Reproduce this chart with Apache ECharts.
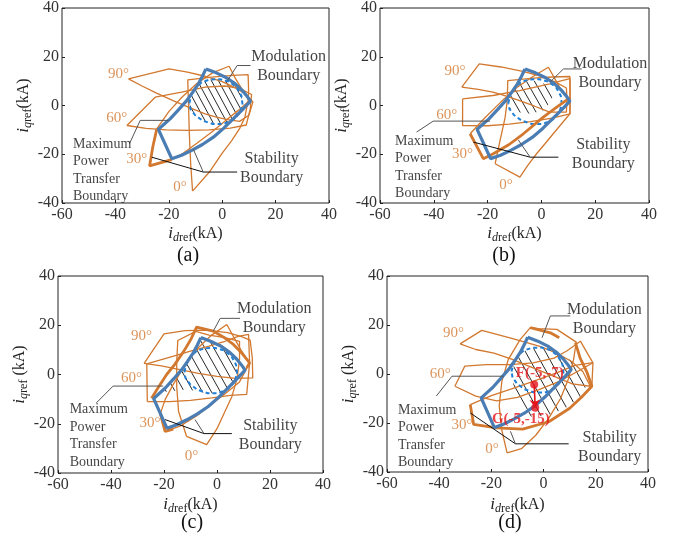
<!DOCTYPE html>
<html><head><meta charset="utf-8">
<script src="https://cdn.jsdelivr.net/npm/echarts@6/dist/echarts.min.js"></script>
<style>html,body{margin:0;padding:0;background:#fff}#c{width:674px;height:537px}</style>
</head><body><div id="c"></div>
<script>
// ---------- axis ----------
const X_RANGE = [-60, 40];
const Y_RANGE = [-40, 40];
const TICK_STEP = 20;
const PANEL_LABELS = ['(a)', '(b)', '(c)', '(d)'];

// ---------- common boundaries ----------
const BLUE_BOUND = [[-6.1,15.0],[-2.2,13.4],[1.6,11.4],[4.8,9.0],[7.4,6.3],[9.3,3.8],[10.6,1.8],[7.5,-1.8],[4.1,-5.5],[0.5,-9.4],[-3.3,-13.0],[-7.4,-16.0],[-11.4,-18.4],[-15.2,-20.4],[-18.9,-21.8],[-21.4,-15.8],[-23.9,-9.8],[-21.8,-7.7],[-19.5,-5.5],[-16.4,-1.8],[-13.3,2.0],[-11,5.5],[-8.9,8.9],[-7.4,12],[-6.1,15.0]];
const MOD_LENS = [[-12.3,1.0],[-11.6,4.2],[-10.0,7.3],[-7.6,9.6],[-4.4,10.7],[-0.8,10.8],[2.6,9.8],[5.4,7.5],[7.2,4.0],[7.6,0.5],[6.6,-3.0],[4.1,-5.9],[0.5,-7.6],[-3.5,-7.6],[-7.4,-6.2],[-10.2,-3.9],[-11.9,-1.4],[-12.3,1.0]];

// ---------- panel (a) ----------
const A_90 = [[-35.1,10.9],[-19.9,15.0],[-13,13.7],[-6.4,12.0],[0,9.8],[5,7.2],[9,4.5],[11.5,1.5],[10,-4],[6.5,-6.5],[2,-5.8],[-2.5,-4.7],[-6.4,-3.4],[-12,-1],[-18,1.8],[-25,5.3],[-30,8],[-35.1,10.9]];
const A_60 = [[-35.7,-8.2],[-25.1,3.4],[-15.2,5.5],[-6.4,7.5],[1,8],[6.5,7],[11,4.5],[10.5,-1.5],[9,-8],[3,-9.3],[-5,-10.0],[-13,-10.2],[-21,-10],[-28.5,-9.4],[-35.7,-8.2]];
const A_30 = [[-27.2,-24.8],[-26,-17],[-24.5,-9.6],[-20,-2.5],[-15,3.5],[-9.5,9],[-3.5,13.5],[2.6,16.1],[5,11],[7.5,6.5],[10.4,2.2],[6,-2],[1,-6.5],[-4,-11],[-9.5,-15.5],[-14.5,-19.5],[-18.9,-22.2],[-27.2,-24.8]];
const A_0 = [[-11.1,-35.1],[-11.8,-24],[-12.3,-12],[-12.6,0],[-12.9,10.5],[-4,11.6],[4,12.4],[9.7,12.7],[9.9,6],[9.7,2.0],[8.5,-4.8],[6.5,-9.5],[3.5,-14.5],[0,-19.5],[-4.8,-27.3],[-11.1,-35.1]];
const A_THICK = [[-24.5,-9.6],[-26,-17],[-27.2,-24.8],[-18.9,-22.2]];
const A_HATCH = MOD_LENS;
const A_ANGLES = [[-38.8,12.7,'90°'],[-39.5,-5.1,'60°'],[-32,-22.1,'30°'],[-15.8,-33.4,'0°']];
const A_TEXT_POS = [[24.9,16.2],[18.5,-25.9],[-55.9,-26.6]];
const A_LEAD_MOD = [[2.0,10.2],[5.6,16.4],[10.6,16.4]];
const A_LEAD_STAB = [[-26.4,-21.2],[-7.1,-27.3],[5.6,-27.3]];
const A_LEAD_STAB2 = [[-10.8,-18.0],[-7.1,-27.3]];
const A_LEAD_MPT = [[-34.7,-15.6],[-30.7,-6.1],[-20.1,-6.1]];

// ---------- panel (b) ----------
const B_90 = [[-29.6,7.5],[-23.1,17.1],[-15,15.8],[-7,14],[0,12],[5.5,9.5],[9.3,7.2],[9.5,2],[9.3,-2.7],[3.1,-2.7],[-2.5,-0.3],[-8.1,2.0],[-13,3.8],[-18,5.5],[-23.5,6.6],[-29.6,7.5]];
const B_60 = [[-29.3,2.7],[-18,4.1],[-8.1,6.1],[3.1,8.9],[8,10.3],[10.6,11],[10.6,4],[10.6,-3.4],[4,-5.2],[-4,-6.6],[-12,-7.6],[-20,-8.3],[-29.3,-8.2],[-29.3,2.7]];
const B_30 = [[-26.5,-11.6],[-21,-5],[-15,1.5],[-9,7.5],[-3,12],[2.6,15.7],[5.5,10],[7.5,6],[10,2.7],[5.7,-0.7],[0.7,-4.8],[-6.7,-11.6],[-12,-16],[-17.9,-19.8],[-21.6,-21.8],[-26.5,-11.6]];
const B_0 = [[-17.2,-23.9],[-15.5,-15],[-13.5,-5],[-12.7,2],[-12.5,10.2],[-3,11.2],[4,11.7],[10.6,11.9],[10.7,4],[10.6,-3.4],[7.5,-7.5],[4.4,-11.6],[1.5,-15.5],[-1.8,-19.8],[-5,-24.5],[-8.0,-29.4],[-17.2,-23.9]];
const B_THICK = [[-26.5,-11.6],[-21.6,-21.8],[-17.9,-19.8],[-12,-16],[-6.7,-11.6],[0.7,-4.8],[5.7,-0.7],[10,2.7]];
const B_HATCH = [[-11.7,0.7],[-11.2,4.5],[-9.8,8.2],[-6.7,10],[-1.8,10.2],[2.6,8.2],[4.4,5.5],[3.8,2],[0.7,-2],[-4.2,-3.4],[-9.2,-2.7],[-11.7,-1.4]];
const B_ANGLES = [[-32.1,14.3,'90°'],[-35.2,-4.1,'60°'],[-29.3,-20.1,'30°'],[-13.2,-32.8,'0°']];
const B_TEXT_POS = [[25.5,13.2],[23.0,-20.1],[-54.4,-25.3]];
const B_LEAD_MOD = [[3.2,9.6],[8.2,15.0],[15.0,15.0]];
const B_LEAD_STAB = [[-25.3,-15.0],[-4.2,-21.2],[6.3,-21.2]];
const B_LEAD_STAB2 = [[-8.6,-14.1],[-4.2,-21.2]];
const B_LEAD_MPT = [[-46.4,-10.9],[-40.2,-6.4],[-19.1,-6.4]];

// ---------- panel (c) ----------
const C_90 = [[-27.5,4.5],[-20,16.5],[-12,17.8],[-4,18],[4,17],[9,15.5],[12.5,14],[13.3,7],[13.5,-1.4],[7,-1.6],[0,-0.8],[-7,0.5],[-14,2],[-21,3.5],[-27.5,4.5]];
const C_60 = [[-26.3,-11],[-26.5,4.3],[-18,7],[-10,9.5],[-3,11.5],[3,13.5],[8,15.5],[11.9,16.3],[12.3,4.7],[11.2,-8.1],[5,-8.5],[-2,-9.5],[-10,-10.5],[-18,-11],[-26.3,-11]];
const C_30 = [[-21.5,-16.3],[-19.6,-23.1],[-14,-21],[-8,-17],[-2,-12],[4,-7],[8.5,-3],[12.3,4.7],[9,10],[3.7,20.3],[-2,16],[-7,11],[-12,4],[-16.5,-4],[-19.5,-10],[-21.5,-16.3]];
const C_0 = [[-11.5,-25.1],[-3.9,-28.5],[0,-22],[3,-15],[5.6,-9],[7.5,-2],[8.5,6],[8.5,13.5],[3,15],[-3,16],[-8,17.5],[-14.8,13.8],[-15.2,5],[-15.2,-5],[-14.5,-15],[-11.5,-25.1]];
const C_THICK = [[-24.7,-9.6],[-22,-5],[-19,0],[-16,4],[-12.5,9.5],[-10,14],[-7.7,19.2],[-1.4,17.6],[3,14.8],[6.2,12.2],[9.5,8.5],[12.3,4.7],[11.2,2.7]];
const C_THICK2 = [[-21.2,-16.5],[-19.6,-23.1],[-16.5,-22.2]];
const C_HATCH = [[-21.5,-7.3],[-19.5,-5.5],[-16.4,-1.8],[-13.3,2.0],[-11,5.5],[-8.9,8.9],[-7.4,12],[-6.6,14],[-2,13.8],[2,12],[5,9],[7.4,6.3],[9.3,3.8],[10.2,2],[8.5,-1],[6,-4.5],[2.5,-7.2],[-2,-7.7],[-6.5,-7.2],[-11,-6],[-15,-6.5],[-21.5,-7.3]];
const C_ANGLES = [[-28.5,15.6,'90°'],[-32.3,-1.4,'60°'],[-25.3,-19.7,'30°'],[-9.6,-33.2,'0°']];
const C_TEXT_POS = [[21.6,22.8],[20.1,-24.8],[-55.6,-25.0]];
const C_LEAD_MOD = [[-1.4,17.6],[1.2,22.8],[8.7,22.8]];
const C_LEAD_STAB = [[-19.6,-18.3],[-4.9,-24.0],[5.6,-24.0]];
const C_LEAD_STAB2 = [[-8.3,-18.3],[-4.9,-24.0]];
const C_LEAD_MPT = [[-45.5,-11.5],[-39.2,-4.7],[-20.3,-4.7]];

// ---------- panel (d) ----------
const D_90 = [[-32,12.3],[-23.7,17.8],[-12.9,14.7],[-1.4,11.3],[5,8.5],[10.7,5.1],[15,1],[17.9,-5],[11,-4],[4,-1],[-4,2.5],[-12,6],[-19,8.5],[-26,10],[-32,12.3]];
const D_60 = [[-34,-5],[-30.2,3.2],[-22,3.8],[-13,3.8],[-4,4.5],[4,6.5],[9,9.5],[14.1,13.4],[17,8],[18.9,4.6],[13,1],[6,-3],[-2,-6.5],[-10,-9.5],[-18,-11],[-26,-9],[-34,-5]];
const D_30 = [[-28.1,-12.5],[-26.8,-20.6],[-18,-22],[-8,-22.5],[2,-19.5],[10,-14],[14.5,-9.5],[18.5,-5],[18.9,4.6],[12,3.5],[5,0.5],[-4,-3],[-12,-6],[-20,-8.8],[-28.1,-12.5]];
const D_0 = [[-14,-32.2],[-8.5,-30.5],[-3,-25],[2,-18],[6.5,-10],[9.5,-2],[11.5,6],[12.5,13],[5.1,18.2],[-2,18.5],[-5.1,18.9],[-9,14],[-13.5,6],[-16,-3],[-17,-13],[-16,-23],[-14,-32.2]];
const D_THICK = [[-28.1,-12.5],[-26.8,-20.6],[-18,-22],[-8,-22.5],[2,-19.5],[10,-14],[14.5,-9.5],[18.5,-5],[16.5,1],[14,6.5],[12.2,12.8]];
const D_THICK2 = [[-5.1,18.9],[-1,17.8],[2.6,16.8],[6,14.8]];
const D_HATCH = [[-12,1],[-10.5,7],[-6,10.3],[0,10.8],[5,9],[9,6.5],[12.5,4.2],[15,1],[16.5,-4.5],[14,-9.5],[9,-13.5],[3,-16.5],[-3,-17.5],[-7,-17],[-9.5,-12.5],[-11.5,-5.5],[-12,1]];
const D_ANGLES = [[-34.5,16.8,'90°'],[-39.6,-0.2,'60°'],[-31.3,-20.9,'30°'],[-19.8,-30.8,'0°']];
const D_TEXT_POS = [[23.3,22.2],[25.3,-29.9],[-55.8,-25.4]];
const D_LEAD_MOD = [[-0.6,14.8],[2.6,23.7],[10.2,23.7]];
const D_LEAD_STAB = [[-28.1,-15.9],[-10.8,-28.5],[9.6,-28.5]];
const D_LEAD_STAB2 = [[-12.7,-23.4],[-10.8,-28.5]];
const D_LEAD_MPT = [[-41.1,-9.0],[-35.1,-0.9],[-15.3,-0.9]];
const D_POINTS = [[-3.6,-4.3],[-3.2,-13.8]];
const D_POINT_LABELS = [[-1.5,0.3,'F(-5,-7)'],[-8.7,-18.6,'G(-5,-15)']];

const TEXTS = ['Modulation\nBoundary', 'Stability\nBoundary', 'Maximum\nPower\nTransfer\nBoundary'];

// ---------- styling ----------
const FONT = '"Liberation Serif","Times New Roman",serif';
const ORANGE = '#D2782F', BLUE = '#4A7DB3', DASH = '#1F80D8', RED = '#E5141B';

const PANELS = [
  {shapes:[A_90,A_60,A_30,A_0], thick:[A_THICK], hatch:A_HATCH, angles:A_ANGLES, pos:A_TEXT_POS, lm:A_LEAD_MOD, ls:A_LEAD_STAB, ls2:A_LEAD_STAB2, lp:A_LEAD_MPT, hw:7},
  {shapes:[B_90,B_60,B_30,B_0], thick:[B_THICK], hatch:B_HATCH, angles:B_ANGLES, pos:B_TEXT_POS, lm:B_LEAD_MOD, ls:B_LEAD_STAB, ls2:B_LEAD_STAB2, lp:B_LEAD_MPT, hw:8},
  {shapes:[C_90,C_60,C_30,C_0], thick:[C_THICK,C_THICK2], hatch:C_HATCH, angles:C_ANGLES, pos:C_TEXT_POS, lm:C_LEAD_MOD, ls:C_LEAD_STAB, ls2:C_LEAD_STAB2, lp:C_LEAD_MPT, hw:9},
  {shapes:[D_90,D_60,D_30,D_0], thick:[D_THICK,D_THICK2], hatch:D_HATCH, angles:D_ANGLES, pos:D_TEXT_POS, lm:D_LEAD_MOD, ls:D_LEAD_STAB, ls2:D_LEAD_STAB2, lp:D_LEAD_MPT, hw:10}
];

const GRIDS = [
  {left:62, top:7, width:267, height:196},
  {left:380, top:7, width:269, height:196},
  {left:58, top:276, width:265, height:197},
  {left:387, top:276, width:261, height:196}
];
const X_NAME_GAP = [21, 21, 22, 23];
const Y_NAME_GAP = [21, 17, 17, 21];
const LABEL_POS = [[188,256],[504,256],[192,523],[510,523]];

function hatchPattern(w) {
  const h = Math.round(w * 1.8);
  const c = document.createElement('canvas');
  c.width = w; c.height = h;
  const g = c.getContext('2d');
  g.strokeStyle = '#111'; g.lineWidth = 0.9;
  g.beginPath();
  [-w, 0, w].forEach(x0 => { g.moveTo(x0, 0); g.lineTo(x0 + w, h); });
  g.stroke();
  return c;
}

const rich = {
  it: {fontFamily: FONT, fontStyle: 'italic', fontSize: 17, color: '#222', lineHeight: 20},
  sit: {fontFamily: FONT, fontStyle: 'italic', fontSize: 12, color: '#222', verticalAlign: 'bottom', lineHeight: 14},
  sub: {fontFamily: FONT, fontSize: 12, color: '#222', verticalAlign: 'bottom', lineHeight: 14},
  n: {fontFamily: FONT, fontSize: 16, color: '#222', lineHeight: 20}
};

const grid = [], xAxis = [], yAxis = [], series = [];
PANELS.forEach((p, i) => {
  grid.push(Object.assign({show: true, borderColor: '#222', borderWidth: 1, containLabel: false}, GRIDS[i]));
  xAxis.push({
    gridIndex: i, type: 'value', min: X_RANGE[0], max: X_RANGE[1], interval: TICK_STEP,
    axisLine: {show: false, onZero: false}, splitLine: {show: false},
    axisTick: {show: true, inside: true, length: 3, lineStyle: {color: '#222'}},
    axisLabel: {fontFamily: FONT, fontSize: 16, color: '#333', margin: 4},
    name: '{it|i}{sit|d}{sub|ref}{n|(kA)}', nameLocation: 'middle', nameGap: X_NAME_GAP[i],
    nameTextStyle: {rich: rich}
  });
  yAxis.push({
    gridIndex: i, type: 'value', min: Y_RANGE[0], max: Y_RANGE[1], interval: TICK_STEP,
    axisLine: {show: false, onZero: false}, splitLine: {show: false},
    axisTick: {show: true, inside: true, length: 3, lineStyle: {color: '#222'}},
    axisLabel: {fontFamily: FONT, fontSize: 16, color: '#333', margin: 3},
    name: i < 2 ? '{it|i}{sit|q}{sub|ref}{n|(kA)}' : '{it|i}{sit|q}{sub|ref}{n| (kA)}',
    nameLocation: 'middle', nameGap: Y_NAME_GAP[i], nameRotate: 90,
    nameTextStyle: {rich: rich}
  });
  const ax = {xAxisIndex: i, yAxisIndex: i};
  const pat = {image: hatchPattern(p.hw), repeat: 'repeat'};
  const hatch = p.hatch;
  series.push(Object.assign({
    type: 'custom', z: 1, silent: true, data: [hatch[0]],
    renderItem: (params, api) => ({
      type: 'polygon',
      shape: {points: hatch.map(pt => api.coord(pt))},
      style: {fill: pat, stroke: null}
    })
  }, ax));
  p.shapes.forEach(s => series.push(Object.assign({type: 'line', data: s, symbol: 'none', silent: true, z: 2,
    lineStyle: {color: ORANGE, width: 1.3}}, ax)));
  series.push(Object.assign({type: 'line', data: MOD_LENS, symbol: 'none', silent: true, z: 3,
    lineStyle: {color: DASH, width: 2, type: [4, 3]}}, ax));
  p.thick.forEach(s => series.push(Object.assign({type: 'line', data: s, symbol: 'none', silent: true, z: 3,
    lineStyle: {color: ORANGE, width: 2.8}}, ax)));
  series.push(Object.assign({type: 'line', data: BLUE_BOUND, symbol: 'none', silent: true, z: 4,
    lineStyle: {color: BLUE, width: 3.2}}, ax));
  [[p.lm, '#555'], [p.ls, '#111'], [p.ls2, '#555'], [p.lp, '#555']].forEach(([d, c]) =>
    series.push(Object.assign({type: 'line', data: d, symbol: 'none', silent: true, z: 5, clip: false,
      lineStyle: {color: c, width: 1}}, ax)));
  // angle labels
  series.push(Object.assign({
    type: 'scatter', z: 6, silent: true, symbolSize: 1, itemStyle: {color: 'rgba(0,0,0,0)'},
    data: p.angles.map(a => ({value: [a[0], a[1]], name: a[2]})),
    label: {show: true, position: 'inside', formatter: '{b}', color: ORANGE, fontFamily: FONT, fontSize: 15}
  }, ax));
  // boundary texts
  const aligns = ['center', 'center', 'left'];
  const sizes = [16, 16, 14];
  const lhs = [19, 19, 17.5];
  p.pos.forEach((pt, k) => series.push(Object.assign({
    type: 'scatter', z: 6, silent: true, symbolSize: 1, itemStyle: {color: 'rgba(0,0,0,0)'},
    data: [{value: pt, name: TEXTS[k]}],
    label: {show: true, position: 'inside', formatter: '{b}', color: '#111', fontFamily: FONT,
      fontSize: sizes[k], lineHeight: lhs[k], align: aligns[k]}
  }, ax)));
  if (i === 3) {
    series.push(Object.assign({
      type: 'scatter', z: 8, silent: true, symbolSize: 8, itemStyle: {color: RED},
      data: D_POINTS,
      markLine: {silent: true, symbol: ['none', 'arrow'], symbolSize: 8, label: {show: false},
        lineStyle: {color: RED, width: 1.6, type: 'solid'},
        data: [[{coord: D_POINTS[0]}, {coord: D_POINTS[1]}]]}
    }, ax));
    series.push(Object.assign({
      type: 'scatter', z: 9, silent: true, symbolSize: 1, itemStyle: {color: 'rgba(0,0,0,0)'},
      data: D_POINT_LABELS.map(a => ({value: [a[0], a[1]], name: a[2]})),
      label: {show: true, position: 'inside', formatter: '{b}', color: RED, fontFamily: FONT,
        fontSize: 15, fontWeight: 'bold'}
    }, ax));
  }
});

const graphic = PANEL_LABELS.map((t, i) => ({
  type: 'text', x: LABEL_POS[i][0], y: LABEL_POS[i][1],
  style: {text: t, fontFamily: FONT, fontSize: 20, fill: '#111', align: 'center', verticalAlign: 'middle'}
}));

const chart = echarts.init(document.getElementById('c'), null, {renderer: 'canvas'});
chart.setOption({animation: false, backgroundColor: '#fff', grid, xAxis, yAxis, series, graphic});
</script></body></html>
